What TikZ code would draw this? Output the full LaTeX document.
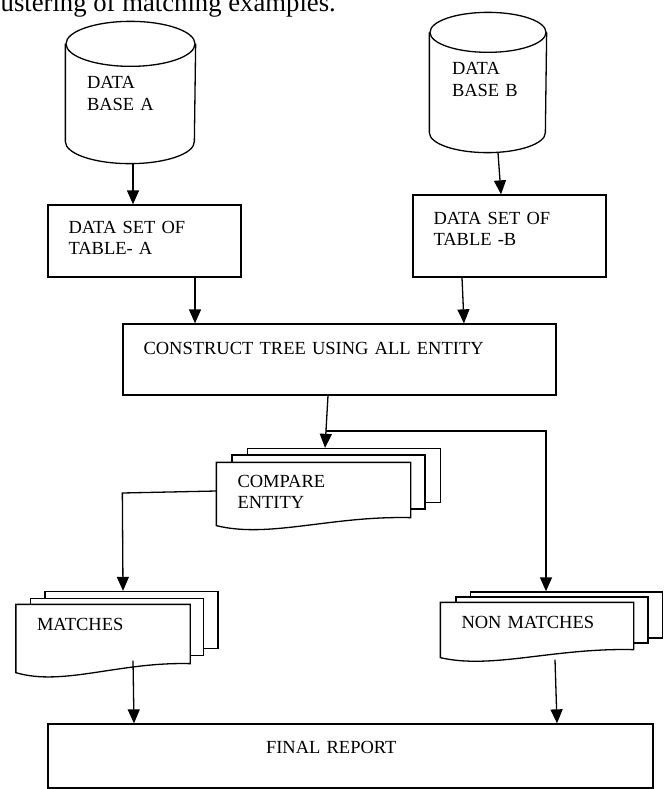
\documentclass[tikz,border=0pt]{standalone}
\usepackage{fontspec}
\setmainfont{Liberation Serif}
\usepackage{tikz}
\usetikzlibrary{arrows.meta}

\tikzset{
    db/.style={align=left, inner ysep=0pt, text height=13pt},
    box/.style={draw, align=left, inner xsep=20.5pt, inner ysep=0pt, text height=13pt},
    sheet/.style={draw, fill=white},
    doc/.style={fill=white, align=left, inner xsep=20.5pt, inner ysep=0pt, text height=13pt}
}

\begin{document}
\begin{tikzpicture}[x=1pt, y=-1pt, line width=1.3pt, >={Triangle[length=14pt,width=12pt]},
    font=\fontsize{18.5}{21.5}\selectfont]
                    \useasboundingbox (0,0) rectangle (670,789);
                    % Nodes
                    \node[anchor=base west, inner sep=0pt, font=\fontsize{26.7}{30}\selectfont] (caption) at (0,12) {ustering of matching examples.};
                    % Data bases
                    \node[db, minimum width=129pt, minimum height=141pt, inner xsep=21pt, text width=87pt, text depth=20pt] (dbA) at (130.5,92.5) {DATA\\BASE A};
                    \draw ([yshift=-22.5pt]dbA.north west) -- ([yshift=22pt]dbA.south west) arc[start angle=180, end angle=360, x radius=64.5pt, y radius=22pt] -- ([yshift=-22.5pt]dbA.north east);
                    \draw ([yshift=-22.5pt]dbA.north) ellipse[x radius=64.5pt, y radius=22.5pt];
                    \node[db, minimum width=116pt, minimum height=139pt, inner xsep=22pt, text width=72pt, text depth=28pt] (dbB) at (488,82.5) {DATA\\BASE B};
                    \draw ([yshift=-20pt]dbB.north west) -- ([yshift=20pt]dbB.south west) arc[start angle=180, end angle=360, x radius=58pt, y radius=20pt] -- ([yshift=-20pt]dbB.north east);
                    \draw ([yshift=-20pt]dbB.north) ellipse[x radius=58pt, y radius=20pt];
                    % Boxes
                    \node[box, minimum width=193pt, minimum height=72pt, text width=152pt, text depth=29pt] (setA) at (144.5,241) {DATA SET OF\\TABLE- A};
                    \node[box, minimum width=193pt, minimum height=82pt, text width=152pt, text depth=37pt] (setB) at (509.5,236) {DATA SET OF\\TABLE -B};
                    \node[box, minimum width=433pt, minimum height=71pt, text width=392pt, text depth=24pt] (tree) at (339.5,359.5) {CONSTRUCT TREE USING ALL ENTITY};
                    % Compare entity
                    \node[sheet, minimum width=193pt, minimum height=54pt] (cmp3) at (344,475.5) {};
                    \node[sheet, minimum width=193pt, minimum height=54pt] (cmp2) at (328.5,482) {};
                    \node[doc, minimum width=193pt, minimum height=54pt, text width=152pt, text depth=19pt] (cmp) at (313.5,490) {COMPARE\\ENTITY};
                    \draw (cmp.south west) -- (cmp.north west) -- (cmp.north east) -- (cmp.south east) .. controls +(-80,-2) and +(53,13) .. ([yshift=-8pt]cmp.south west) -- cycle;
                    % Matches
                    \node[sheet, minimum width=173pt, minimum height=57pt] (mat3) at (131.5,620) {};
                    \node[sheet, minimum width=173pt, minimum height=57pt] (mat2) at (117,627) {};
                    \node[doc, minimum width=173pt, minimum height=58pt, text width=132pt, text depth=21pt] (mat) at (103,634) {MATCHES};
                    \draw (mat.south west) -- (mat.north west) -- (mat.north east) -- (mat.south east) .. controls +(-71,-2) and +(47,14) .. ([yshift=-9pt]mat.south west) -- cycle;
                    % Non matches
                    \node[sheet, minimum width=192pt, minimum height=46pt] (non3) at (566.5,615) {};
                    \node[sheet, minimum width=192pt, minimum height=46pt] (non2) at (552,620) {};
                    \node[doc, minimum width=192pt, minimum height=46pt, text width=151pt, text depth=9pt] (non) at (537,626) {NON MATCHES};
                    \draw (non.south west) -- (non.north west) -- (non.north east) -- (non.south east) .. controls +(-80,-2) and +(52,12) .. ([yshift=-8pt]non.south west) -- cycle;
                    \node[box, minimum width=605pt, minimum height=64pt, inner xsep=218pt, text width=169pt, text depth=19pt] (final) at (350.5,756) {FINAL REPORT};
                    \coordinate (split) at (326,431);
                    % Edges
                    \draw[->] ([xshift=2.5pt]dbA.south) -- ([xshift=-11.5pt]setA.north);
                    \draw[->] ([xshift=10pt]dbB.south) -- ([xshift=-8.5pt]setB.north);
                    \draw[->] ([xshift=50.5pt]setA.south) -- ([xshift=-144.5pt]tree.north);
                    \draw[->] ([xshift=-47.5pt]setB.south) -- ([xshift=124.5pt]tree.north);
                    \draw[->] ([xshift=-11.5pt]tree.south) -- ([xshift=-19pt]cmp3.north);
                    \draw[->] (split) -| ([xshift=-20.5pt]non3.north);
                    \draw[->] ([yshift=-1pt]cmp.west) -- ++(-94,2) -- ([xshift=-8.5pt]mat3.north);
                    \draw[->] ([xshift=30pt,yshift=3pt]mat.south) -- ([xshift=-216.5pt]final.north);
                    \draw[->] ([xshift=18pt,yshift=-10pt]non.south) -- ([xshift=206.5pt]final.north);
                \end{tikzpicture}
\end{document}
